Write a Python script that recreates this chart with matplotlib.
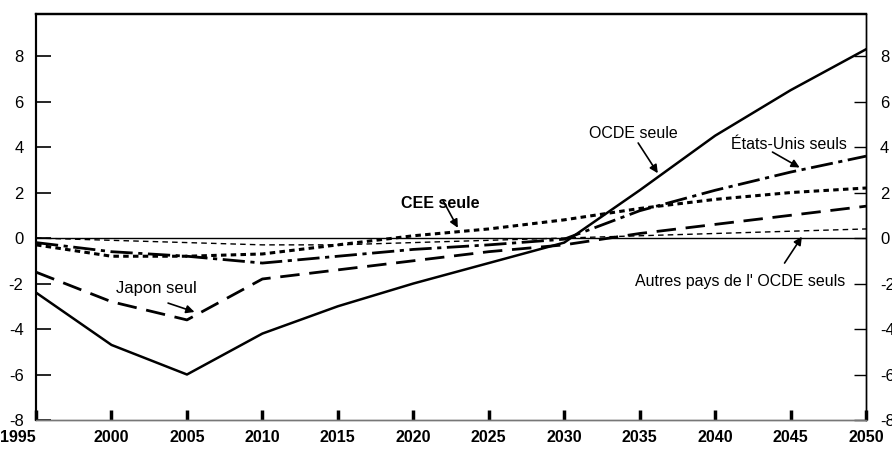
import matplotlib.pyplot as plt

plt.rcParams['font.family'] = ['Liberation Sans', 'DejaVu Sans']

years = [1995, 2000, 2005, 2010, 2015, 2020, 2025, 2030, 2035, 2040, 2045, 2050]
ocde = [-2.4, -4.7, -6.0, -4.2, -3.0, -2.0, -1.1, -0.2, 2.1, 4.5, 6.5, 8.3]
japon = [-1.5, -2.8, -3.6, -1.8, -1.4, -1.0, -0.6, -0.3, 0.2, 0.6, 1.0, 1.4]
etats_unis = [-0.2, -0.6, -0.8, -1.1, -0.8, -0.5, -0.3, -0.05, 1.2, 2.1, 2.9, 3.6]
cee = [-0.3, -0.8, -0.8, -0.7, -0.3, 0.1, 0.4, 0.8, 1.3, 1.7, 2.0, 2.2]
autres = [0.0, -0.1, -0.2, -0.3, -0.3, -0.2, -0.1, 0.0, 0.1, 0.2, 0.3, 0.4]
yticks = [-8, -6, -4, -2, 0, 2, 4, 6, 8]
xticks = [1995, 2000, 2005, 2010, 2015, 2020, 2025, 2030, 2035, 2040, 2045, 2050]

fig = plt.figure(figsize=(8.92, 4.49), dpi=100)
ax = fig.add_axes([0.0404, 0.0646, 0.9305, 0.9042])

ax.axhline(0, color='black', lw=1.0)
ax.plot(years, autres, color='black', lw=1.0, dashes=(4, 3))
ax.plot(years, cee, color='black', lw=2.2, dashes=(1.8, 1.4))
ax.plot(years, etats_unis, color='black', lw=2.0, dashes=(8, 2, 1.5, 2))
ax.plot(years, japon, color='black', lw=2.0, dashes=(7, 3.5))
ax.plot(years, ocde, color='black', lw=1.8)

ax.set_xlim(1995, 2050)
ax.set_ylim(-8, 9.85)

ax.set_xticks(xticks)
ax.set_xticklabels([str(x) for x in xticks], fontsize=11.5, fontweight='bold')
ax.get_xticklabels()[0].set_ha('right')
ax.set_yticks(yticks)
ax.set_yticklabels([str(y) for y in yticks], fontsize=12)
ax.tick_params(axis='x', direction='in', length=7, width=2.5, pad=7)
ax.tick_params(axis='y', direction='in', length=11, width=1.2, pad=9)

ax2 = ax.twinx()
ax2.set_ylim(ax.get_ylim())
ax2.set_yticks(yticks)
ax2.set_yticklabels([str(y) for y in yticks], fontsize=12)
ax2.tick_params(axis='y', direction='in', length=9, width=1.0, pad=10)

for a in (ax, ax2):
    a.spines['top'].set_linewidth(1.6)
    a.spines['left'].set_linewidth(1.5)
    a.spines['right'].set_linewidth(1.0)
    a.spines['bottom'].set_linewidth(1.0)
    a.spines['bottom'].set_color('#777777')

arrow = dict(arrowstyle='-|>', color='black', lw=1.2, mutation_scale=12,
             shrinkA=0, shrinkB=0)

# labels
ax.text(2034.6, 4.6, 'OCDE seule', fontsize=11.5, ha='center', va='center')
ax.text(2044.9, 4.13, 'États-Unis seuls', fontsize=11.5, ha='center', va='center')
ax.text(2021.8, 1.54, 'CEE seule', fontsize=11.5, fontweight='bold', ha='center', va='center')
ax.text(2003.0, -2.2, 'Japon seul', fontsize=12, ha='center', va='center')
ax.text(2041.65, -1.89, "Autres pays de l' OCDE seuls", fontsize=11.5, ha='center', va='center')

# arrows
ax.annotate('', xy=(2036.2, 2.85), xytext=(2034.9, 4.18), arrowprops=arrow)
ax.annotate('', xy=(2045.6, 3.1), xytext=(2043.8, 3.78), arrowprops=arrow)
ax.annotate('', xy=(2022.95, 0.45), xytext=(2021.95, 1.67), arrowprops=arrow)
ax.annotate('', xy=(2005.5, -3.25), xytext=(2003.75, -2.86), arrowprops=arrow)
ax.annotate('', xy=(2045.75, 0.06), xytext=(2044.6, -1.1), arrowprops=arrow)

fig.savefig('out.png', dpi=100)
